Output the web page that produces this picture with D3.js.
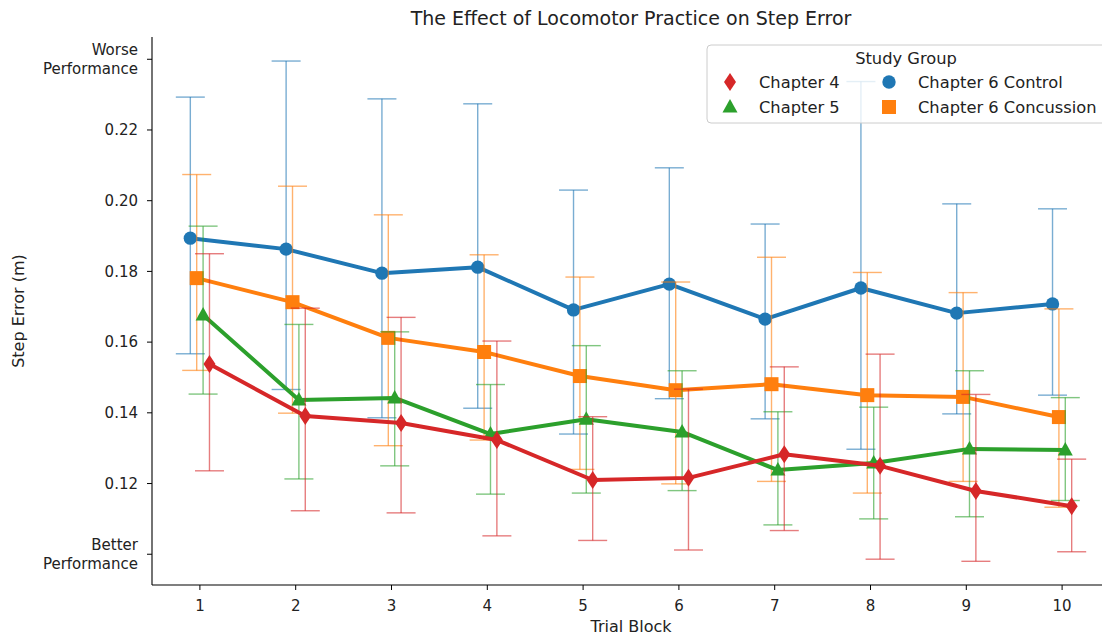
<!DOCTYPE html>
<html>
<head>
<meta charset="utf-8">
<script src="https://cdn.jsdelivr.net/npm/d3@7"></script>
<style>
  html, body { margin: 0; padding: 0; background: #fff; }
  svg { display: block; font-family: "DejaVu Sans", sans-serif; }
</style>
</head>
<body>
<svg id="chart" width="1102" height="636"></svg>
<script>
// Trial blocks on the x axis
const trialBlocks = [1, 2, 3, 4, 5, 6, 7, 8, 9, 10];

// Group names (drawing order = dodge order, left to right)
const groups = ["Chapter 6 Control", "Chapter 6 Concussion", "Chapter 5", "Chapter 4"];
const legendOrder = ["Chapter 4", "Chapter 5", "Chapter 6 Control", "Chapter 6 Concussion"];

// Mean step error (m) per trial block
const controlMean    = [0.1894, 0.1863, 0.1795, 0.1812, 0.1691, 0.1764, 0.1665, 0.1753, 0.1682, 0.1708];
const concussionMean = [0.1781, 0.1713, 0.1612, 0.1572, 0.1504, 0.1464, 0.1481, 0.1450, 0.1445, 0.1388];
const chapter5Mean   = [0.1677, 0.1436, 0.1442, 0.1340, 0.1382, 0.1346, 0.1238, 0.1258, 0.1298, 0.1295];
const chapter4Mean   = [0.1538, 0.1391, 0.1371, 0.1323, 0.1210, 0.1216, 0.1283, 0.1250, 0.1179, 0.1136];

// Confidence interval bounds
const controlLow     = [0.1567, 0.1466, 0.1386, 0.1413, 0.1340, 0.1440, 0.1383, 0.1297, 0.1397, 0.1450];
const controlHigh    = [0.2293, 0.2395, 0.2288, 0.2274, 0.2030, 0.2093, 0.1934, 0.2337, 0.1991, 0.1977];
const concussionLow  = [0.1520, 0.1399, 0.1307, 0.1323, 0.1240, 0.1199, 0.1206, 0.1173, 0.1206, 0.1133];
const concussionHigh = [0.2074, 0.2041, 0.1960, 0.1847, 0.1784, 0.1770, 0.1840, 0.1797, 0.1740, 0.1694];
const chapter5Low    = [0.1453, 0.1213, 0.1250, 0.1170, 0.1173, 0.1180, 0.1083, 0.1100, 0.1106, 0.1152];
const chapter5High   = [0.1928, 0.1650, 0.1629, 0.1480, 0.1590, 0.1519, 0.1403, 0.1416, 0.1519, 0.1443];
const chapter4Low    = [0.1236, 0.1123, 0.1117, 0.1052, 0.1039, 0.1012, 0.1067, 0.0986, 0.0980, 0.1007];
const chapter4High   = [0.1850, 0.1696, 0.1670, 0.1603, 0.1389, 0.1467, 0.1530, 0.1566, 0.1452, 0.1269];

// Y tick values and their labels
const yTickValues = [0.10, 0.12, 0.14, 0.16, 0.18, 0.20, 0.22, 0.24];
const yTickLabels = [["Better", "Performance"], ["0.12"], ["0.14"], ["0.16"], ["0.18"], ["0.20"], ["0.22"], ["Worse", "Performance"]];

const colors = {
  "Chapter 6 Control": "#1f77b4",
  "Chapter 6 Concussion": "#ff7f0e",
  "Chapter 5": "#2ca02c",
  "Chapter 4": "#d62728"
};
const markerShapes = {
  "Chapter 6 Control": "circle",
  "Chapter 6 Concussion": "square",
  "Chapter 5": "triangle",
  "Chapter 4": "diamond"
};

const seriesData = {
  "Chapter 6 Control": [controlMean, controlLow, controlHigh],
  "Chapter 6 Concussion": [concussionMean, concussionLow, concussionHigh],
  "Chapter 5": [chapter5Mean, chapter5Low, chapter5High],
  "Chapter 4": [chapter4Mean, chapter4Low, chapter4High]
};

const svg = d3.select("#chart");
const plot = { left: 152, right: 1110, top: 37, bottom: 585 };

const x = d3.scaleBand().domain(trialBlocks).range([plot.left, plot.right]).padding(0);
const y = d3.scaleLinear().domain([0.0913, 0.2463]).range([plot.bottom, plot.top]);
const bw = x.bandwidth();
const dodge = d3.scaleLinear().domain([0, groups.length - 1]).range([-0.1 * bw, 0.1 * bw]);

function markerPath(shape) {
  if (shape === "circle") return d3.symbol(d3.symbolCircle, 140)();
  if (shape === "square") return "M-7,-7H7V7H-7Z";
  if (shape === "triangle") return "M0,-8L7.5,5.5L-7.5,5.5Z";
  return "M0,-9L6,0L0,9L-6,0Z";
}

// Axes
const gx = svg.append("g").attr("transform", `translate(0,${plot.bottom})`);
gx.append("line").attr("x1", plot.left).attr("x2", plot.right).attr("y1", 0).attr("y2", 0)
  .attr("stroke", "#000").attr("stroke-width", 1.1);
trialBlocks.forEach(t => {
  const cx = x(t) + bw / 2;
  gx.append("line").attr("x1", cx).attr("x2", cx).attr("y1", 0).attr("y2", 5)
    .attr("stroke", "#000").attr("stroke-width", 1);
  gx.append("text").attr("x", cx).attr("y", 21).attr("dy", "0.35em")
    .attr("text-anchor", "middle").attr("font-size", 15).attr("fill", "#222").text(t);
});

const gy = svg.append("g");
gy.append("line").attr("x1", plot.left).attr("x2", plot.left).attr("y1", plot.top).attr("y2", plot.bottom)
  .attr("stroke", "#000").attr("stroke-width", 1.1);
yTickValues.forEach((v, i) => {
  const ty = y(v);
  gy.append("line").attr("x1", plot.left - 5).attr("x2", plot.left).attr("y1", ty).attr("y2", ty)
    .attr("stroke", "#000").attr("stroke-width", 1);
  const lines = yTickLabels[i];
  const lh = 19;
  lines.forEach((s, j) => {
    gy.append("text").attr("x", 138).attr("y", ty + (j - (lines.length - 1) / 2) * lh)
      .attr("dy", "0.35em").attr("text-anchor", "end").attr("font-size", 15).attr("fill", "#222").text(s);
  });
});

// Axis titles and chart title
svg.append("text").attr("x", (plot.left + plot.right) / 2).attr("y", 626).attr("dy", "0.35em")
  .attr("text-anchor", "middle").attr("font-size", 16).attr("fill", "#222").text("Trial Block");
svg.append("text").attr("transform", `translate(18,${(plot.top + plot.bottom) / 2}) rotate(-90)`)
  .attr("dy", "0.35em").attr("text-anchor", "middle").attr("font-size", 16).attr("fill", "#222").text("Step Error (m)");
svg.append("text").attr("x", (plot.left + plot.right) / 2).attr("y", 18).attr("dy", "0.35em")
  .attr("text-anchor", "middle").attr("font-size", 19).attr("fill", "#222")
  .text("The Effect of Locomotor Practice on Step Error");

// Series: error bars, lines, markers
const capHalf = 14.5;
groups.forEach((g, gi) => {
  const [mean, low, high] = seriesData[g];
  const off = dodge(gi);
  const px = t => x(t) + bw / 2 + off;
  const layer = svg.append("g");
  const eb = layer.append("g").attr("stroke", colors[g]).attr("stroke-opacity", 0.6).attr("stroke-width", 1.4);
  trialBlocks.forEach((t, i) => {
    const cx = px(t);
    eb.append("line").attr("x1", cx).attr("x2", cx).attr("y1", y(low[i])).attr("y2", y(high[i]));
    eb.append("line").attr("x1", cx - capHalf).attr("x2", cx + capHalf).attr("y1", y(low[i])).attr("y2", y(low[i]));
    eb.append("line").attr("x1", cx - capHalf).attr("x2", cx + capHalf).attr("y1", y(high[i])).attr("y2", y(high[i]));
  });
  const line = d3.line().x((d, i) => px(trialBlocks[i])).y(d => y(d));
  layer.append("path").attr("d", line(mean)).attr("fill", "none")
    .attr("stroke", colors[g]).attr("stroke-width", 4).attr("stroke-linejoin", "round");
  layer.selectAll("path.mk").data(mean).join("path").attr("class", "mk")
    .attr("d", markerPath(markerShapes[g]))
    .attr("transform", (d, i) => `translate(${px(trialBlocks[i])},${y(d)})`)
    .attr("fill", colors[g]);
});

// Legend
const lg = svg.append("g");
lg.append("rect").attr("x", 707).attr("y", 45).attr("width", 400).attr("height", 78).attr("rx", 4)
  .attr("fill", "#fff").attr("fill-opacity", 0.8).attr("stroke", "#cccccc").attr("stroke-width", 1);
lg.append("text").attr("x", 906).attr("y", 58).attr("dy", "0.35em").attr("text-anchor", "middle")
  .attr("font-size", 16.3).attr("fill", "#222").text("Study Group");
legendOrder.forEach((g, i) => {
  const col = Math.floor(i / 2), row = i % 2;
  const mx = col === 0 ? 730 : 889;
  const tx = col === 0 ? 759 : 918;
  const my = row === 0 ? 82 : 107;
  lg.append("path").attr("d", markerPath(markerShapes[g])).attr("transform", `translate(${mx},${my})`)
    .attr("fill", colors[g]);
  lg.append("text").attr("x", tx).attr("y", my).attr("dy", "0.35em").attr("font-size", 16.3)
    .attr("fill", "#222").text(g);
});
</script>
</body>
</html>
